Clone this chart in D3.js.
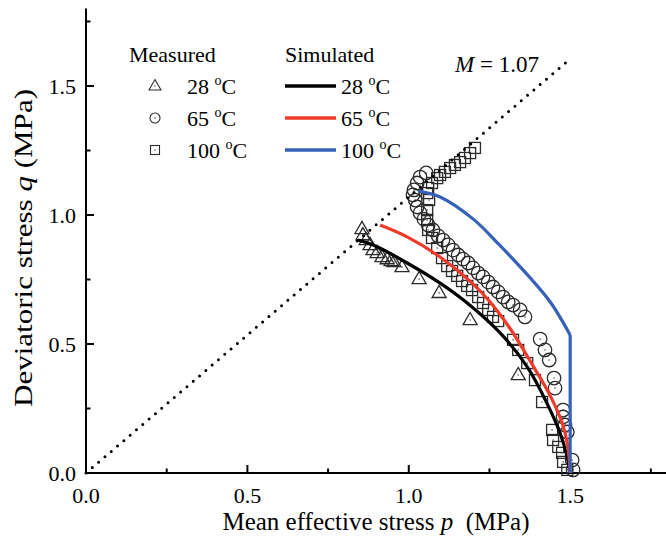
<!DOCTYPE html>
<html>
<head>
<meta charset="utf-8">
<script src="https://cdn.jsdelivr.net/npm/d3@7/dist/d3.min.js"></script>
<style>
  html, body { margin: 0; padding: 0; background: #fff; }
  svg { display: block; font-family: "Liberation Serif", "Times New Roman", serif; }
</style>
</head>
<body>
<svg id="chart" width="666" height="548"></svg>
<script>
// Axis settings
const pDomain = [0, 1.8];
const qDomain = [0, 1.8];
const majorTicks = [0, 0.5, 1.0, 1.5];
const minorTicks = [0.25, 0.75, 1.25, 1.75];
const tickLabels = ["0.0", "0.5", "1.0", "1.5"];

// Critical state line slope
const slopeM = 1.07;
const cslEndP = 1.5;

// Temperatures
const temperatures = ["28", "65", "100"];

// Measured stress paths [p, q] (MPa)
const measured28 = [
  [0.855, 0.946], [0.858, 0.922], [0.868, 0.903], [0.880, 0.884], [0.889, 0.864],
  [0.902, 0.853], [0.917, 0.837], [0.933, 0.829], [0.945, 0.822], [0.954, 0.818],
  [0.979, 0.798], [1.032, 0.752], [1.094, 0.698], [1.190, 0.593], [1.339, 0.380]
];
const measured65 = [
  [1.054, 1.163], [1.035, 1.147], [1.026, 1.124], [1.016, 1.097], [1.013, 1.078],
  [1.020, 1.058], [1.026, 1.031], [1.035, 1.008], [1.047, 0.984], [1.060, 0.961],
  [1.075, 0.942], [1.091, 0.919], [1.106, 0.903], [1.122, 0.884], [1.137, 0.864],
  [1.153, 0.845], [1.168, 0.829], [1.184, 0.814], [1.199, 0.795], [1.215, 0.775],
  [1.230, 0.760], [1.246, 0.740], [1.261, 0.721], [1.277, 0.702], [1.292, 0.682],
  [1.308, 0.663], [1.323, 0.651], [1.345, 0.632], [1.360, 0.605], [1.407, 0.519],
  [1.422, 0.477], [1.435, 0.438], [1.450, 0.368], [1.453, 0.329], [1.478, 0.244],
  [1.478, 0.217], [1.484, 0.186], [1.491, 0.159], [1.506, 0.050], [1.509, 0.012]
];
const measured100 = [
  [1.205, 1.260], [1.190, 1.240], [1.174, 1.221], [1.159, 1.205], [1.143, 1.194],
  [1.128, 1.182], [1.112, 1.167], [1.097, 1.155], [1.088, 1.143], [1.072, 1.124],
  [1.060, 1.105], [1.057, 1.085], [1.063, 1.058], [1.057, 1.019], [1.057, 0.981],
  [1.060, 0.942], [1.072, 0.911], [1.088, 0.872], [1.103, 0.833], [1.119, 0.802],
  [1.134, 0.783], [1.150, 0.764], [1.165, 0.744], [1.181, 0.725], [1.196, 0.709],
  [1.215, 0.682], [1.230, 0.659], [1.246, 0.632], [1.261, 0.605], [1.277, 0.589],
  [1.323, 0.516], [1.339, 0.477], [1.367, 0.426], [1.391, 0.360], [1.413, 0.275],
  [1.444, 0.167], [1.447, 0.128], [1.463, 0.101], [1.475, 0.078], [1.478, 0.043],
  [1.491, 0.012]
];

// Simulated stress paths [p, q] (MPa)
const simulated28 = [
  [0.843, 0.903], [0.900, 0.878], [0.995, 0.814], [1.097, 0.736], [1.181, 0.659],
  [1.283, 0.543], [1.367, 0.411], [1.429, 0.268], [1.470, 0.150], [1.490, 0.065],
  [1.500, 0.0]
];
const simulated65 = [
  [0.911, 0.961], [0.995, 0.915], [1.097, 0.837], [1.199, 0.733], [1.252, 0.663],
  [1.314, 0.560], [1.385, 0.415], [1.438, 0.300], [1.475, 0.195], [1.492, 0.110],
  [1.500, 0.0]
];
const simulated100Arc = [
  [1.029, 1.093], [1.097, 1.070], [1.199, 0.985], [1.280, 0.885], [1.370, 0.765],
  [1.440, 0.660], [1.500, 0.535]
];
const simulated100Drop = [[1.500, 0.535], [1.500, 0.0]];

const svg = d3.select("#chart");
const x = d3.scaleLinear().domain(pDomain).range([86, 667]);
const y = d3.scaleLinear().domain(qDomain).range([473, 8.6]);

const colors = { "28": "#000000", "65": "#f23a2a", "100": "#3562b8" };
const markerStroke = "#2b2b2b";

// Axes
const axes = svg.append("g").attr("stroke", "#000").attr("stroke-width", 2).attr("fill", "none");
axes.append("line").attr("x1", x(0)).attr("x2", x(pDomain[1])).attr("y1", y(0)).attr("y2", y(0));
axes.append("line").attr("x1", x(0)).attr("x2", x(0)).attr("y1", y(0)).attr("y2", y(qDomain[1]));

majorTicks.forEach(v => {
  axes.append("line").attr("x1", x(v)).attr("x2", x(v)).attr("y1", y(0)).attr("y2", y(0) - 8);
  axes.append("line").attr("x1", x(0)).attr("x2", x(0) + 8).attr("y1", y(v)).attr("y2", y(v));
});
minorTicks.forEach(v => {
  axes.append("line").attr("x1", x(v)).attr("x2", x(v)).attr("y1", y(0)).attr("y2", y(0) - 4.5);
  axes.append("line").attr("x1", x(0)).attr("x2", x(0) + 4.5).attr("y1", y(v)).attr("y2", y(v));
});

const labels = svg.append("g").attr("font-size", 22).attr("fill", "#000");
majorTicks.forEach((v, i) => {
  labels.append("text").attr("x", x(v)).attr("y", 503).attr("text-anchor", "middle").text(tickLabels[i]);
  labels.append("text").attr("x", 76).attr("y", y(v) + 8).attr("text-anchor", "end").text(tickLabels[i]);
});

// Axis titles
const xt = svg.append("text").attr("x", 376).attr("y", 530).attr("text-anchor", "middle").attr("font-size", 25);
xt.append("tspan").text("Mean effective stress ");
xt.append("tspan").attr("font-style", "italic").text("p");
xt.append("tspan").text("\u00a0 (MPa)");

const yt = svg.append("text").attr("transform", "translate(32,248) rotate(-90)")
  .attr("text-anchor", "middle").attr("font-size", 25)
  .attr("textLength", 318).attr("lengthAdjust", "spacingAndGlyphs");
yt.append("tspan").text("Deviatoric stress ");
yt.append("tspan").attr("font-style", "italic").text("q");
yt.append("tspan").text(" (MPa)");

// Marker shapes
function drawMarker(g, kind, cx, cy, size) {
  const m = g.append("g").attr("transform", `translate(${cx},${cy})`);
  if (kind === "28") {
    const s = size;
    const h = s * Math.sqrt(3) / 2;
    m.append("path").attr("d", `M0,${-h * 0.62}L${s / 2},${h * 0.38}L${-s / 2},${h * 0.38}Z`);
  } else if (kind === "65") {
    m.append("circle").attr("r", size / 2);
  } else {
    m.append("rect").attr("x", -size / 2).attr("y", -size / 2).attr("width", size).attr("height", size);
  }
  m.append("circle").attr("r", 0.8).attr("fill", "#555").attr("stroke", "none");
}

const markerGroup = svg.append("g").attr("fill", "none").attr("stroke", markerStroke).attr("stroke-width", 1.3);
const measured = [["28", measured28, 14], ["65", measured65, 13.5], ["100", measured100, 11]];
measured.forEach(([t, pts, s]) => {
  pts.forEach(d => drawMarker(markerGroup, t, x(d[0]), y(d[1]), s));
});

// Critical state line
svg.append("line")
  .attr("x1", x(0)).attr("y1", y(0))
  .attr("x2", x(cslEndP)).attr("y2", y(slopeM * cslEndP))
  .attr("stroke", "#000").attr("stroke-width", 3)
  .attr("stroke-linecap", "round").attr("stroke-dasharray", "0 8.3");

// Simulated curves
const curve = d3.line().x(d => x(d[0])).y(d => y(d[1])).curve(d3.curveCatmullRom.alpha(0.5));
const straight = d3.line().x(d => x(d[0])).y(d => y(d[1]));
const simGroup = svg.append("g").attr("fill", "none").attr("stroke-width", 3.2);
simGroup.append("path").attr("d", curve(simulated28)).attr("stroke", colors["28"]);
simGroup.append("path").attr("d", curve(simulated65)).attr("stroke", colors["65"]);
simGroup.append("path").attr("d", curve(simulated100Arc)).attr("stroke", colors["100"]);
simGroup.append("path").attr("d", straight(simulated100Drop)).attr("stroke", colors["100"]);

// Legend
const legend = svg.append("g").attr("font-size", 22).attr("fill", "#000");
legend.append("text").attr("x", 129).attr("y", 62).text("Measured");
legend.append("text").attr("x", 285).attr("y", 62).text("Simulated");
const rowY = [86, 118, 150];
const legendMarkers = svg.append("g").attr("fill", "none").attr("stroke", markerStroke).attr("stroke-width", 1.1);
const legendSizes = { "28": 12, "65": 10, "100": 9 };
temperatures.forEach((t, i) => {
  drawMarker(legendMarkers, t, 155, rowY[i], legendSizes[t]);
  const tx = legend.append("text").attr("x", 187).attr("y", rowY[i] + 8);
  tx.append("tspan").text(t + " ");
  tx.append("tspan").attr("font-size", 14).attr("dy", -9).text("o");
  tx.append("tspan").attr("dy", 9).text("C");
  svg.append("line").attr("x1", 285).attr("x2", 336).attr("y1", rowY[i]).attr("y2", rowY[i])
    .attr("stroke", colors[t]).attr("stroke-width", 3.5);
  const sx = legend.append("text").attr("x", 341).attr("y", rowY[i] + 8);
  sx.append("tspan").text(t + " ");
  sx.append("tspan").attr("font-size", 14).attr("dy", -9).text("o");
  sx.append("tspan").attr("dy", 9).text("C");
});

// Slope annotation
const mt = svg.append("text").attr("x", 455).attr("y", 72).attr("font-size", 23);
mt.append("tspan").attr("font-style", "italic").text("M");
mt.append("tspan").text(" = 1.07");
</script>
</body>
</html>
